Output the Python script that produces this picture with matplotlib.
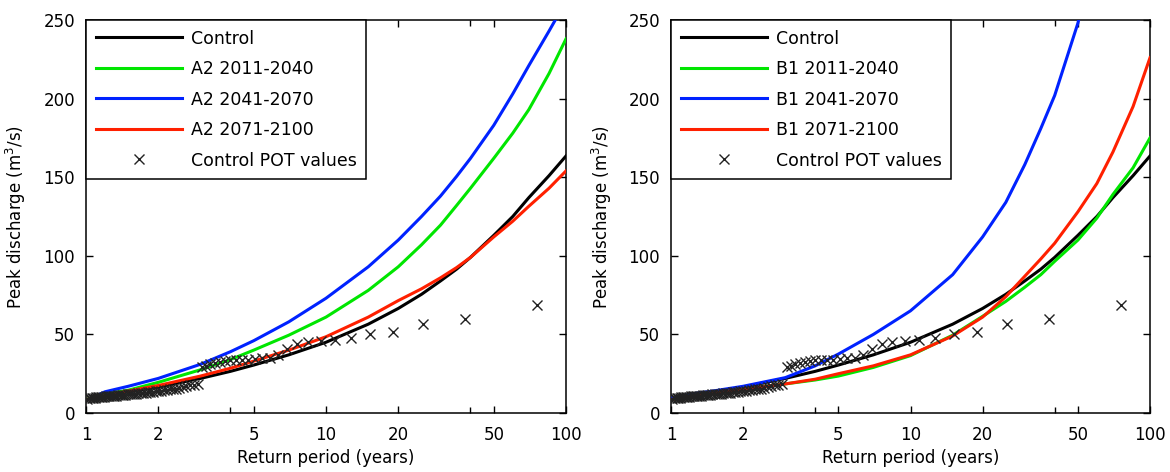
import matplotlib
matplotlib.use("Agg")
import matplotlib.pyplot as plt
from matplotlib.ticker import FixedLocator, NullFormatter

plt.rcParams['font.family'] = ['DejaVu Sans']

# return periods (years) at which the curves were read
T = [1, 1.2, 1.5, 2, 3, 4, 5, 7, 10, 15, 20, 25, 30, 35, 40, 50, 60, 70, 85, 100]

# peak discharge (m3/s)
control = [8.5, 11, 13.5, 16.5, 22, 26.5, 30.5, 37, 45, 56.5, 66.5, 75.5, 84, 91.5, 99, 113, 125, 137, 151, 163.5]

a2_2011 = [8.5, 12, 14.5, 19.5, 27.5, 34, 40, 49.5, 61, 78, 93, 107, 119.5, 132, 143, 162, 178, 193, 216, 238]
a2_2041 = [8, 13.5, 17, 22, 31, 39, 46, 58, 73, 93, 110, 125, 138, 150.5, 162, 183, 203, 221, 243, 262]
a2_2071 = [8.5, 11, 14, 17.5, 23.5, 28.5, 33, 40, 48.5, 61, 71.5, 79, 86, 92.5, 99, 112, 122, 131.5, 143, 154]

b1_2011 = [8.5, 10.5, 12.5, 15, 18.5, 21, 23.5, 29, 36.5, 49.5, 61.5, 71, 80, 88, 96.5, 110, 124, 139, 156, 175]
b1_2041 = [9.5, 12, 14, 17, 22.5, 30, 37.5, 50, 65, 88, 112, 134, 158, 181, 202, 248, 300]
b1_2071 = [8.5, 10.5, 12.5, 15, 18.5, 21.5, 25, 30, 37, 49, 61, 74, 87, 98, 108, 128, 146, 166, 195, 226]

# control POT values: plotting position (years) and discharge
pot_T = [76, 38, 25.3, 19, 15.2, 12.7, 10.9, 9.5, 8.4, 7.6,
         6.9, 6.33, 5.85, 5.43, 5.07, 4.75, 4.47, 4.22, 4.0, 3.8,
         3.62, 3.45, 3.3, 3.17, 3.04, 2.92, 2.81, 2.71, 2.62, 2.53,
         2.45, 2.38, 2.3, 2.24, 2.17, 2.11, 2.05, 2.0, 1.95, 1.9,
         1.85, 1.81, 1.77, 1.73, 1.69, 1.65, 1.62, 1.58, 1.55, 1.52,
         1.49, 1.46, 1.43, 1.41, 1.38, 1.36, 1.33, 1.31, 1.29, 1.27,
         1.25, 1.23, 1.21, 1.19, 1.17, 1.15, 1.13, 1.12, 1.1, 1.09,
         1.07, 1.06, 1.04, 1.03, 1.01]
pot_Q = [68.5, 59.5, 56.5, 51.5, 50, 47.5, 46.5, 45.5, 45, 44,
         41, 37, 35, 35, 34.5, 34, 34, 33.5, 33.5, 33,
         32.5, 32, 31, 30, 29.5, 18.5, 18, 17.5, 17, 16.5,
         16, 15.5, 15, 15, 14.5, 14.5, 14, 14, 13.8, 13.6,
         13.4, 13.2, 13.0, 12.8, 12.6, 12.5, 12.3, 12.2, 12.0, 11.9,
         11.8, 11.6, 11.5, 11.4, 11.3, 11.2, 11.1, 11.0, 10.9, 10.8,
         10.7, 10.6, 10.5, 10.4, 10.3, 10.2, 10.1, 10.0, 9.9, 9.8,
         9.7, 9.6, 9.5, 9.3, 9.0]

xticks = [1, 2, 5, 10, 20, 50, 100]
yticks = [0, 50, 100, 150, 200, 250]

GREEN = '#00e600'
BLUE = '#0022ff'
RED = '#ff2000'


def draw_panel(ax, scen, series):
    ax.plot(T, control, color='black', lw=2.2, label='Control', zorder=3)
    for (name, vals), col in zip(series, [GREEN, BLUE, RED]):
        ax.plot(T[:len(vals)], vals, color=col, lw=2.2, label=scen + ' ' + name, zorder=3)
    ax.plot(pot_T, pot_Q, ls='none', marker='x', ms=6.5, mew=1.0, color='#222222',
            label='Control POT values', zorder=4)

    ax.set_xscale('log')
    ax.set_xlim(1, 100)
    ax.set_ylim(0, 250)
    ax.xaxis.set_major_locator(FixedLocator(xticks))
    ax.set_xticklabels([str(v) for v in xticks])
    ax.xaxis.set_minor_locator(FixedLocator([4, 40]))
    ax.xaxis.set_minor_formatter(NullFormatter())
    ax.set_yticks(yticks)
    ax.tick_params(which='both', direction='in', top=True, right=True,
                   labelsize=12, width=1, color='black')
    ax.tick_params(which='major', length=5)
    ax.tick_params(which='minor', length=4)
    ax.tick_params(axis='x', pad=9)
    ax.tick_params(axis='y', pad=8)
    for s in ax.spines.values():
        s.set_linewidth(1.1)

    ax.set_xlabel('Return period (years)', fontsize=12)
    ax.set_ylabel('Peak discharge (m$^3$/s)', fontsize=12)
    ax.xaxis.set_label_coords(0.5, -0.092)
    ax.yaxis.set_label_coords(-0.12, 0.5)

    leg = ax.legend(loc='upper left', borderaxespad=0, fancybox=False,
                    edgecolor='black', framealpha=1, fontsize=12.5,
                    handlelength=5.0, handletextpad=0.5, labelspacing=0.72,
                    borderpad=0.55)
    leg.get_frame().set_linewidth(1.1)


fig = plt.figure(figsize=(11.7, 4.72), dpi=100)
ax1 = fig.add_axes([86 / 1170, 59 / 472, 480 / 1170, 393 / 472])
ax2 = fig.add_axes([671 / 1170, 59 / 472, 479 / 1170, 393 / 472])

draw_panel(ax1, 'A2', [('2011-2040', a2_2011), ('2041-2070', a2_2041), ('2071-2100', a2_2071)])
draw_panel(ax2, 'B1', [('2011-2040', b1_2011), ('2041-2070', b1_2041), ('2071-2100', b1_2071)])

fig.savefig('out.png', dpi=100)
